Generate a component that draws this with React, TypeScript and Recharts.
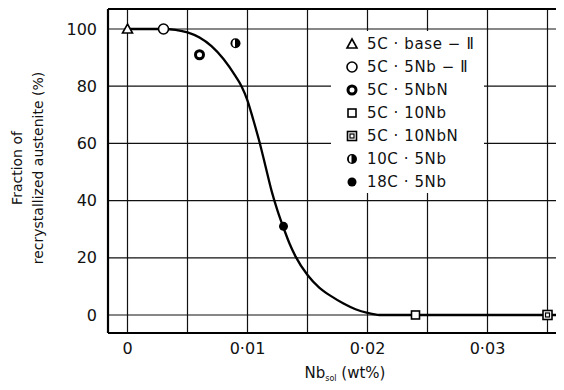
import { ComposedChart, Line, Scatter, XAxis, YAxis, CartesianGrid, ReferenceLine } from 'recharts';

// Fraction of recrystallized austenite vs soluble Nb. Fitted curve + measured points per steel.
const curveNb = [0, 0.003, 0.004, 0.005, 0.006, 0.007, 0.008, 0.009, 0.0095, 0.01, 0.0105, 0.011, 0.0115, 0.012, 0.0125, 0.013, 0.0135, 0.014, 0.015, 0.016, 0.017, 0.018, 0.019, 0.02, 0.021, 0.0364];
const curveFrac = [100, 100, 99.7, 98.8, 97, 94, 89.5, 83.5, 80, 75, 68, 60.5, 52, 43.5, 36.5, 30.5, 25, 20.5, 14, 9.5, 6.5, 4, 2, 0.7, 0, 0];

const steels = ['5C · base − Ⅱ', '5C · 5Nb − Ⅱ', '5C · 5NbN', '5C · 10Nb', '5C · 10NbN', '10C · 5Nb', '18C · 5Nb'];
const steelNb = [0, 0.003, 0.006, 0.024, 0.035, 0.009, 0.013];
const steelFrac = [100, 100, 91, 0, 0, 95, 31];
const markers = ['triangle', 'circle', 'ring', 'square', 'boxsquare', 'half', 'dot'];

const xTicks = [0, 0.005, 0.01, 0.015, 0.02, 0.025, 0.03, 0.035];
const xLabels: Record<string, string> = { '0': '0', '0.01': '0·01', '0.02': '0·02', '0.03': '0·03' };
const yTicks = [0, 20, 40, 60, 80, 100];

const FONT = '"DejaVu Sans", sans-serif';

const curveData = curveNb.map((x, i) => ({ x, y: curveFrac[i] }));

function Marker({ kind, cx, cy }: { kind: string; cx: number; cy: number }) {
  switch (kind) {
    case 'triangle':
      return <polygon points={`${cx},${cy - 5} ${cx - 5},${cy + 4} ${cx + 5},${cy + 4}`} fill="#fff" stroke="#000" strokeWidth={1.6} />;
    case 'circle':
      return <circle cx={cx} cy={cy} r={5} fill="#fff" stroke="#000" strokeWidth={1.6} />;
    case 'ring':
      return <circle cx={cx} cy={cy} r={4} fill="#fff" stroke="#000" strokeWidth={3} />;
    case 'square':
      return <rect x={cx - 4} y={cy - 4} width={8} height={8} fill="#fff" stroke="#000" strokeWidth={1.6} />;
    case 'boxsquare':
      return (
        <g>
          <rect x={cx - 4.5} y={cy - 4.5} width={9} height={9} fill="#fff" stroke="#000" strokeWidth={1.6} />
          <rect x={cx - 2} y={cy - 2} width={4} height={4} fill="none" stroke="#000" strokeWidth={1.2} />
        </g>
      );
    case 'half':
      return (
        <g>
          <circle cx={cx} cy={cy} r={5} fill="#000" />
          <path d={`M${cx - 0.5},${cy - 3.8} A 2.6 3.8 0 0 0 ${cx - 0.5},${cy + 3.8} Z`} fill="#fff" />
        </g>
      );
    default:
      return <circle cx={cx} cy={cy} r={4.5} fill="#000" />;
  }
}

// legend sits in a white box over the grid, upper right
function LegendBox() {
  return (
    <div style={{ position: 'absolute', left: 331, top: 31, width: 153, height: 162, background: '#fff', padding: '1px 0 0 14px', boxSizing: 'border-box', fontFamily: FONT, fontSize: 15, color: '#111', whiteSpace: 'nowrap' }}>
      {steels.map((s, i) => (
        <div key={s} style={{ display: 'flex', alignItems: 'center', height: 23 }}>
          <svg width={14} height={14} style={{ marginRight: 8 }}>
            <Marker kind={markers[i]} cx={7} cy={7} />
          </svg>
          <span style={{ letterSpacing: 0.6 }}>{s}</span>
        </div>
      ))}
    </div>
  );
}

const XLabel = ({ viewBox }: any) => {
  const cx = viewBox.x + viewBox.width / 2 + 9;
  return (
    <text x={cx} y={viewBox.y + 45} textAnchor="middle" fontFamily={FONT} fontSize={15} fill="#111">
      Nb<tspan fontSize={8} dy={3}>sol</tspan>
      <tspan dy={-3}>{'  (wt%)'}</tspan>
    </text>
  );
};

const YLabel = ({ viewBox }: any) => {
  const cy = viewBox.y + viewBox.height / 2 - 3;
  return (
    <g fontFamily={FONT} fontSize={14} fill="#111">
      <text x={17} y={cy} textAnchor="middle" dominantBaseline="central" transform={`rotate(-90 17 ${cy})`}>Fraction of</text>
      <text x={38} y={cy} textAnchor="middle" dominantBaseline="central" transform={`rotate(-90 38 ${cy})`}>recrystallized austenite (%)</text>
    </g>
  );
};

export default function App() {
  return (
    <div style={{ margin: -8, width: 564, height: 390, background: '#fff', position: 'relative', overflow: 'hidden' }}>
      <ComposedChart width={564} height={390} margin={{ top: 9, right: 0, bottom: 0, left: 0 }}>
        <CartesianGrid stroke="#111" strokeWidth={1.2} />
        <XAxis
          type="number"
          dataKey="x"
          domain={[-0.001625, 0.036375]}
          ticks={xTicks}
          tickFormatter={(v: number) => xLabels[String(v)] ?? ''}
          height={57}
          tickSize={0}
          tickMargin={10}
          axisLine={{ stroke: '#000', strokeWidth: 2.2 }}
          tick={{ fontFamily: FONT, fontSize: 16, fill: '#111' }}
          allowDataOverflow
          label={{ content: XLabel }}
        />
        <YAxis
          type="number"
          dataKey="y"
          domain={[-6.3, 107]}
          ticks={yTicks}
          width={108}
          tickSize={0}
          tickMargin={11}
          axisLine={{ stroke: '#000', strokeWidth: 2.2 }}
          tick={{ fontFamily: FONT, fontSize: 16, fill: '#111' }}
          allowDataOverflow
          label={{ content: YLabel }}
        />
        <ReferenceLine y={107} stroke="#000" strokeWidth={2.2} ifOverflow="extendDomain" />
        <Line data={curveData} dataKey="y" type="monotone" stroke="#000" strokeWidth={2.3} dot={false} isAnimationActive={false} />
        {steels.map((s, i) => (
          <Scatter
            key={s}
            name={s}
            data={[{ x: steelNb[i], y: steelFrac[i] }]}
            dataKey="y"
            isAnimationActive={false}
            shape={(p: any) => <Marker kind={markers[i]} cx={p.cx} cy={p.cy} />}
          />
        ))}
      </ComposedChart>
      <LegendBox />
    </div>
  );
}
